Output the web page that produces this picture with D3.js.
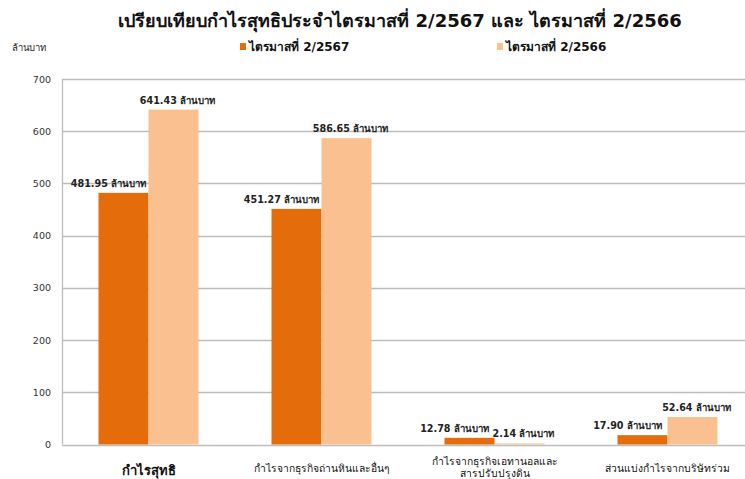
<!DOCTYPE html>
<html lang="th">
<head>
<meta charset="UTF-8">
<title>เปรียบเทียบกำไรสุทธิ</title>
<script src="https://d3js.org/d3.v7.min.js"></script>
<style>
    body { margin: 0; background: #fff; }
    svg { font-family: "DejaVu Sans", "Noto Sans", sans-serif; }
</style>
</head>
<body>
<svg id="chart" width="745" height="479"></svg>
<script>
    // ข้อมูล
    const categories = [
        ["กำไรสุทธิ"],
        ["กำไรจากธุรกิจถ่านหินและอื่นๆ"],
        ["กำไรจากธุรกิจเอทานอลและ", "สารปรับปรุงดิน"],
        ["ส่วนแบ่งกำไรจากบริษัทร่วม"]
    ];
    const seriesNames = ["ไตรมาสที่ 2/2567", "ไตรมาสที่ 2/2566"];
    const q2_2567 = [481.95, 451.27, 12.78, 17.90];
    const q2_2566 = [641.43, 586.65, 2.14, 52.64];
    const yTicks = [0, 100, 200, 300, 400, 500, 600, 700];
    const colors = ["#E46C0A", "#FAC090"];

    const svg = d3.select("#chart");
    const margin = { left: 62, top: 79, right: -9, bottom: 34 };
    const width = 745, height = 479;

    const x0 = d3.scaleBand()
        .domain(d3.range(categories.length))
        .range([margin.left, width - margin.right])
        .paddingInner(0.422).paddingOuter(0.211);
    const x1 = d3.scaleBand()
        .domain([0, 1])
        .range([0, x0.bandwidth()]);
    const y = d3.scaleLinear()
        .domain([0, 700])
        .range([height - margin.bottom - 0.5, margin.top]);

    // เส้นกริด
    svg.append("g").selectAll("line")
        .data(yTicks)
        .join("line")
        .attr("x1", margin.left)
        .attr("x2", width)
        .attr("y1", d => Math.round(y(d)) + 0.5)
        .attr("y2", d => Math.round(y(d)) + 0.5)
        .attr("stroke", "#bcbcbc")
        .attr("stroke-width", 1.3);

    svg.append("line")
        .attr("x1", margin.left + 0.5).attr("x2", margin.left + 0.5)
        .attr("y1", y(700)).attr("y2", y(0))
        .attr("stroke", "#bcbcbc").attr("stroke-width", 1.3);

    // ป้ายแกน y
    svg.append("g").selectAll("text")
        .data(yTicks)
        .join("text")
        .attr("x", 51)
        .attr("y", d => y(d) + 3.5)
        .attr("text-anchor", "end")
        .attr("font-size", 9.5)
        .attr("fill", "#333")
        .text(d => d);

    const series = [q2_2567, q2_2566];
    const labelDx = [-15, 4];

    series.forEach((vals, s) => {
        svg.append("g").selectAll("rect")
            .data(vals)
            .join("rect")
            .attr("x", (d, i) => x0(i) + x1(s))
            .attr("width", x1.bandwidth())
            .attr("y", d => y(d))
            .attr("height", d => y(0) - y(d))
            .attr("fill", colors[s]);

        svg.append("g").selectAll("text")
            .data(vals)
            .join("text")
            .attr("x", (d, i) => Math.min(x0(i) + x1(s) + x1.bandwidth() / 2 + labelDx[s], 708))
            .attr("y", d => y(d) - 6)
            .attr("text-anchor", "middle")
            .attr("font-size", 9.6)
            .attr("font-weight", "bold")
            .attr("fill", "#222")
            .text(d => d.toFixed(2) + " ล้านบาท");
    });

    // ป้ายหมวดหมู่
    const catG = svg.append("g").selectAll("text")
        .data(categories)
        .join("text")
        .attr("x", (d, i) => x0(i) + x0.bandwidth() / 2)
        .attr("y", (d, i) => i === 0 ? 475 : (d.length > 1 ? 465 : 472))
        .attr("text-anchor", "middle")
        .attr("font-size", (d, i) => i === 0 ? 13 : 10.3)
        .attr("font-weight", (d, i) => i === 0 ? "bold" : "normal")
        .attr("fill", "#111");
    catG.selectAll("tspan")
        .data(d => d)
        .join("tspan")
        .attr("x", function () { return d3.select(this.parentNode).attr("x"); })
        .attr("dy", (d, i) => i === 0 ? 0 : 11.5)
        .text(d => d);

    // ชื่อกราฟ
    svg.append("text")
        .attr("x", 400)
        .attr("y", 27)
        .attr("text-anchor", "middle")
        .attr("font-size", 18)
        .attr("font-weight", "bold")
        .attr("fill", "#111")
        .text("เปรียบเทียบกำไรสุทธิประจำไตรมาสที่ 2/2567 และ ไตรมาสที่ 2/2566");

    // หน่วย
    svg.append("text")
        .attr("x", 12).attr("y", 51)
        .attr("font-size", 9.5)
        .attr("fill", "#222")
        .text("ล้านบาท");

    // คำอธิบาย
    const legendX = [240, 497];
    const leg = svg.append("g").selectAll("g")
        .data(seriesNames)
        .join("g")
        .attr("transform", (d, i) => `translate(${legendX[i]},47)`);
    leg.append("rect")
        .attr("x", 0).attr("y", -4)
        .attr("width", 6).attr("height", 7)
        .attr("fill", (d, i) => colors[i]);
    leg.append("text")
        .attr("x", 9).attr("y", 4)
        .attr("font-size", 12)
        .attr("font-weight", "bold")
        .attr("fill", "#111")
        .text(d => d);
</script>
</body>
</html>
